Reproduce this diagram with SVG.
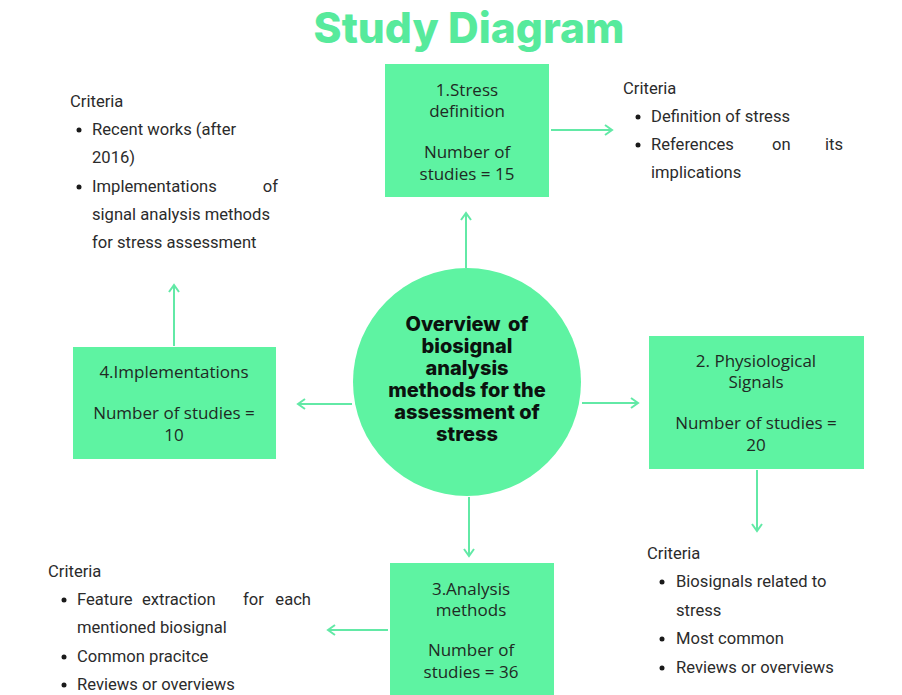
<svg xmlns="http://www.w3.org/2000/svg" width="902" height="695" viewBox="0 0 902 695">
<style>
.box{fill:#5ef3a2;}
.bt{font-family:"Open Sans","Liberation Sans",sans-serif;font-size:17px;fill:#1f2a24;text-anchor:middle;}
.ct{font-family:Inter,"Liberation Sans",sans-serif;font-weight:800;font-size:20px;fill:#0b120e;text-anchor:middle;}
.cr{font-family:Roboto,"Liberation Sans",sans-serif;font-size:16.6px;fill:#2b2b2b;}
.end{text-anchor:end;}
.con{stroke:#62e9a6;stroke-width:2;fill:none;}
</style>
<defs>
<marker id="ah" viewBox="0 0 12 12" refX="10" refY="6" markerWidth="12" markerHeight="12" markerUnits="userSpaceOnUse" orient="auto">
<path d="M3,1 L10,6 L3,11" fill="none" stroke="#62e9a6" stroke-width="2"/>
</marker>
</defs>
<rect width="902" height="695" fill="#ffffff"/>
<text x="469" y="43" font-family="Inter,'Liberation Sans',sans-serif" font-weight="800" font-size="42.5" fill="#57ea9c" text-anchor="middle">Study Diagram</text>
<g id="connectors">
<line class="con" x1="466" y1="268" x2="466" y2="213" marker-end="url(#ah)"/>
<line class="con" x1="551" y1="130" x2="612" y2="130" marker-end="url(#ah)"/>
<line class="con" x1="582" y1="403" x2="638" y2="403" marker-end="url(#ah)"/>
<line class="con" x1="757" y1="470" x2="757" y2="531" marker-end="url(#ah)"/>
<line class="con" x1="469" y1="497" x2="469" y2="556" marker-end="url(#ah)"/>
<line class="con" x1="388" y1="630" x2="328" y2="630" marker-end="url(#ah)"/>
<line class="con" x1="352" y1="404" x2="298" y2="404" marker-end="url(#ah)"/>
<line class="con" x1="174" y1="346" x2="174" y2="285" marker-end="url(#ah)"/>
</g>
<g id="center">
<circle cx="467" cy="382" r="114" class="box"/>
<text class="ct" x="467" y="331" word-spacing="3">Overview of</text>
<text class="ct" x="467" y="353">biosignal</text>
<text class="ct" x="467" y="375">analysis</text>
<text class="ct" x="467" y="397">methods for the</text>
<text class="ct" x="467" y="419">assessment of</text>
<text class="ct" x="467" y="441">stress</text>
</g>
<g id="box1">
<rect class="box" x="385" y="64" width="164" height="133"/>
<text class="bt" x="467" y="96">1.Stress</text>
<text class="bt" x="467" y="117">definition</text>
<text class="bt" x="467" y="158">Number of</text>
<text class="bt" x="467" y="180">studies = 15</text>
</g>
<g id="box2">
<rect class="box" x="649" y="336" width="215" height="133"/>
<text class="bt" x="756" y="367">2. Physiological</text>
<text class="bt" x="756" y="388">Signals</text>
<text class="bt" x="756" y="429">Number of studies =</text>
<text class="bt" x="756" y="451">20</text>
</g>
<g id="box3">
<rect class="box" x="390" y="563" width="164" height="135"/>
<text class="bt" x="471" y="595">3.Analysis</text>
<text class="bt" x="471" y="616">methods</text>
<text class="bt" x="471" y="656">Number of</text>
<text class="bt" x="471" y="678">studies = 36</text>
</g>
<g id="box4">
<rect class="box" x="73" y="347" width="203" height="112"/>
<text class="bt" x="174" y="378">4.Implementations</text>
<text class="bt" x="174" y="419">Number of studies =</text>
<text class="bt" x="174" y="441">10</text>
</g>
<g id="criteria-top-left">
<text class="cr" x="70" y="107">Criteria</text>
<circle cx="79" cy="130" r="2.5" fill="#1a1a1a"/>
<text class="cr" x="92" y="135">Recent works (after</text>
<text class="cr" x="92" y="163">2016)</text>
<circle cx="79" cy="187" r="2.5" fill="#1a1a1a"/>
<text class="cr" x="92" y="192">Implementations</text>
<text class="cr end" x="278" y="192">of</text>
<text class="cr" x="92" y="220">signal analysis methods</text>
<text class="cr" x="92" y="248">for stress assessment</text>
</g>
<g id="criteria-top-right">
<text class="cr" x="623" y="94">Criteria</text>
<circle cx="638" cy="117" r="2.5" fill="#1a1a1a"/>
<text class="cr" x="651" y="122">Definition of stress</text>
<circle cx="638" cy="145" r="2.5" fill="#1a1a1a"/>
<text class="cr" x="651" y="150">References</text>
<text class="cr" x="772" y="150">on</text>
<text class="cr end" x="843" y="150">its</text>
<text class="cr" x="651" y="178">implications</text>
</g>
<g id="criteria-bottom-right">
<text class="cr" x="647" y="559">Criteria</text>
<circle cx="662" cy="582" r="2.5" fill="#1a1a1a"/>
<text class="cr" x="676" y="587">Biosignals related to</text>
<text class="cr" x="676" y="616">stress</text>
<circle cx="662" cy="639" r="2.5" fill="#1a1a1a"/>
<text class="cr" x="676" y="644">Most common</text>
<circle cx="662" cy="668" r="2.5" fill="#1a1a1a"/>
<text class="cr" x="676" y="673">Reviews or overviews</text>
</g>
<g id="criteria-bottom-left">
<text class="cr" x="48" y="577">Criteria</text>
<circle cx="64" cy="600" r="2.5" fill="#1a1a1a"/>
<text class="cr" x="77" y="605">Feature</text>
<text class="cr" x="142" y="605">extraction</text>
<text class="cr" x="243" y="605">for</text>
<text class="cr end" x="311" y="605">each</text>
<text class="cr" x="77" y="633">mentioned biosignal</text>
<circle cx="64" cy="657" r="2.5" fill="#1a1a1a"/>
<text class="cr" x="77" y="662">Common pracitce</text>
<circle cx="64" cy="685" r="2.5" fill="#1a1a1a"/>
<text class="cr" x="77" y="690">Reviews or overviews</text>
</g>
</svg>
